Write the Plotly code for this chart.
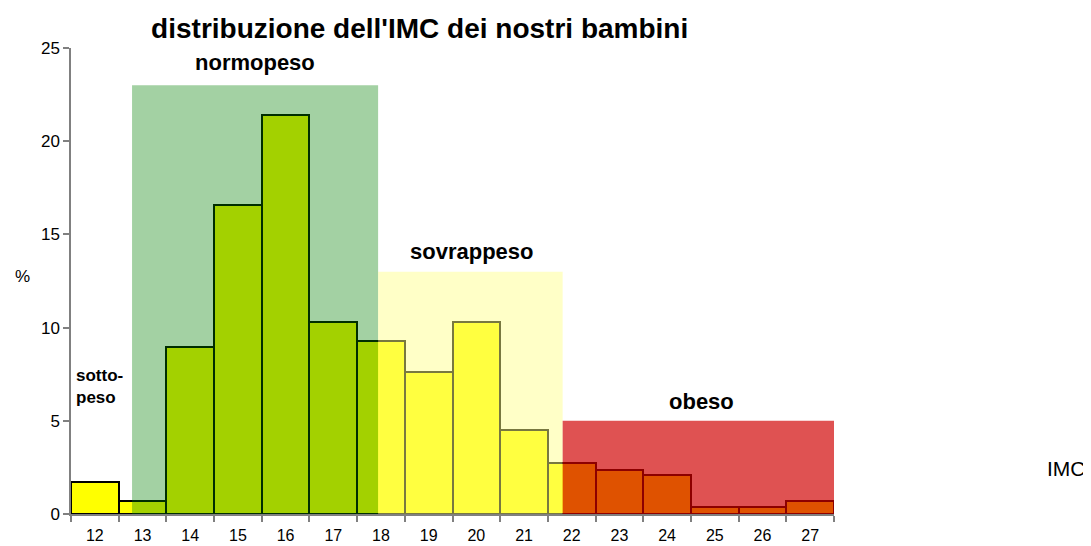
import plotly.graph_objects as go

categories = ["12", "13", "14", "15", "16", "17", "18", "19", "20", "21", "22", "23", "24", "25", "26", "27"]
percent = [1.7, 0.7, 8.95, 16.6, 21.4, 10.3, 9.3, 7.6, 10.3, 4.5, 2.75, 2.35, 2.1, 0.35, 0.35, 0.7]

# classification bands: x start / x end in category-index units, height in %
band_labels = ["normopeso", "sovrappeso", "obeso"]
band_x0 = [0.78, 5.94, 9.81]
band_x1 = [5.94, 9.81, 15.6]
band_top = [23.0, 13.0, 5.0]
band_colors = ["rgba(0,128,0,0.36)", "rgba(255,255,136,0.47)", "rgba(208,0,0,0.68)"]
label_x = [3.36, 7.91, 12.73]
label_y = [24.2, 14.1, 6.05]

FONT = "Liberation Sans, Arial, sans-serif"

fig = go.Figure()
fig.add_trace(go.Bar(
    x=categories, y=percent,
    marker=dict(color="#FFFF00", line=dict(color="#000000", width=2)),
    width=1.0,
    hoverinfo="x+y",
))

for x0, x1, top, col in zip(band_x0, band_x1, band_top, band_colors):
    fig.add_shape(type="rect", xref="x", yref="y", x0=x0, x1=x1,
                  y0=-0.12, y1=top, fillcolor=col, line=dict(width=0), layer="above")

for lab, lx, ly in zip(band_labels, label_x, label_y):
    fig.add_annotation(x=lx, y=ly, xref="x", yref="y", text="<b>" + lab + "</b>",
                       showarrow=False, font=dict(family=FONT, size=22, color="#000"))

fig.add_annotation(x=-0.43, y=6.85, xref="x", yref="y", text="<b>sotto-<br>peso</b>",
                   showarrow=False, xanchor="left", align="left",
                   font=dict(family=FONT, size=17, color="#000"))

fig.add_annotation(x=-0.076, y=0.509, xref="paper", yref="paper", text="%", showarrow=False,
                   font=dict(family=FONT, size=17, color="#000"))
fig.add_annotation(x=1.305, y=2.43, xref="paper", yref="y", text="IMC", showarrow=False,
                   xanchor="center", font=dict(family=FONT, size=21, color="#000"))

fig.update_layout(
    width=1083, height=538,
    margin=dict(l=63, r=257, t=40, b=32),
    paper_bgcolor="white", plot_bgcolor="white",
    showlegend=False,
    bargap=0,
    title=dict(text="<b>distribuzione dell'IMC dei nostri bambini</b>",
               x=0.457, xref="paper", xanchor="center", y=0.963, yanchor="middle",
               font=dict(family=FONT, size=28, color="#000")),
    font=dict(family=FONT, size=17, color="#000"),
)
fig.update_xaxes(
    type="category", range=[-0.5, 15.5], tickson="boundaries", automargin=False,
    showline=True, linecolor="#808080", linewidth=1.5,
    ticks="outside", ticklen=6, tickcolor="#808080", tickwidth=1.5,
    showgrid=False, zeroline=False, ticklabelstandoff=6,
    tickfont=dict(family=FONT, size=16, color="#000"),
)
fig.update_yaxes(
    range=[0, 25], tickvals=[0, 5, 10, 15, 20, 25], automargin=False,
    showline=True, linecolor="#808080", linewidth=1.5,
    ticks="outside", ticklen=6, tickcolor="#808080", tickwidth=1.5,
    showgrid=False, zeroline=False,
    tickfont=dict(family=FONT, size=17, color="#000"),
)

fig.write_html("out.html")
